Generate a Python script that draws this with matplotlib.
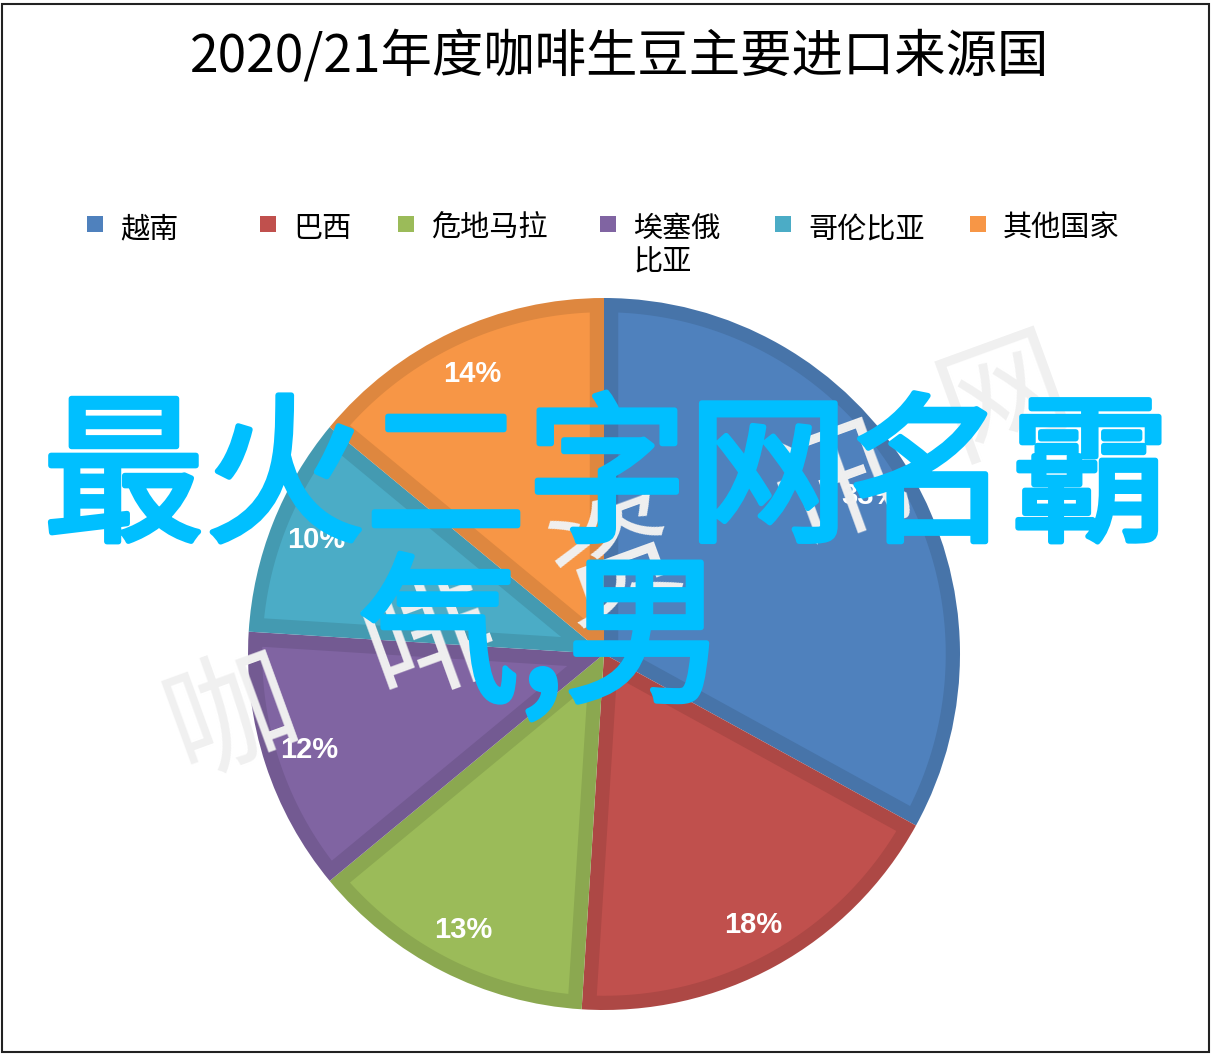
import matplotlib
matplotlib.use("Agg")
import matplotlib.pyplot as plt
from matplotlib.patches import Rectangle
import matplotlib.patheffects as pe
import numpy as np

plt.rcParams['font.family'] = ['Noto Sans CJK SC', 'DejaVu Sans']

# data
countries = ['越南', '巴西', '危地马拉', '埃塞俄\n比亚', '哥伦比亚', '其他国家']
shares = [33, 18, 13, 12, 10, 14]
colors = ['#4F81BD', '#C0504D', '#9BBB59', '#8064A2', '#4BACC6', '#F79646']
edge_colors = ['#4774A9', '#AD4845', '#8BA850', '#735A92', '#449AB1', '#DE873F']
title = '2020/21年度咖啡生豆主要进口来源国'
overlay_line1 = '最火二字网名霸'
overlay_line2 = '气,男'
watermark = '咖啡资讯网'

W, H = 1211, 1054
fig = plt.figure(figsize=(W / 100, H / 100), dpi=100)

# frame around the chart
fig.patches.append(Rectangle((0.002, 0.002), 0.996, 0.994, transform=fig.transFigure,
                             fill=False, edgecolor='#222222', linewidth=1.5))

fig.text(620 / W, 1 - 57 / H, title, ha='center', va='center', fontsize=37)

# pie axes, centre (604, 654) px, radius 356 px
ax = fig.add_axes([248 / W, 44 / H, 712 / W, 712 / H])
wedges, texts = ax.pie(shares, colors=edge_colors, startangle=90, counterclock=False,
                       labels=[f'{s}%' for s in shares], labeldistance=0.87,
                       wedgeprops=dict(linewidth=0))

# lighter inset of every wedge, leaving a darker band at its edges
band = 0.04
for w, c in zip(wedges, colors):
    t1, t2 = np.radians(w.theta1), np.radians(w.theta2)
    half = (t2 - t1) / 2
    bis = (t1 + t2) / 2
    p = band / np.sin(half) * np.array([np.cos(bis), np.sin(bis)])
    rin = w.r - band
    ends = []
    for t in (t1, t2):
        u = np.array([np.cos(t), np.sin(t)])
        pu = p @ u
        s = -pu + np.sqrt(pu ** 2 - p @ p + rin ** 2)
        q = p + s * u
        ends.append(np.arctan2(q[1], q[0]))
    a1, a2 = ends
    if a2 < a1:
        a2 += 2 * np.pi
    arc = np.linspace(a1, a2, 120)
    xs = np.concatenate([[p[0]], rin * np.cos(arc)])
    ys = np.concatenate([[p[1]], rin * np.sin(arc)])
    ax.fill(xs, ys, color=c, linewidth=0, zorder=2)

for t in texts:
    t.set_color('white')
    t.set_fontsize(21)
    t.set_fontweight('bold')
    t.set_family(['Liberation Sans', 'DejaVu Sans'])
    t.set_ha('center')
    t.set_va('center')
    t.set_zorder(3)
ax.set_xlim(-1, 1)
ax.set_ylim(-1, 1)
ax.set_aspect('equal')
ax.axis('off')

# legend entries laid out like the original
leg_x = [95, 268, 406, 608, 783, 978]
for name, c, x in zip(countries, colors, leg_x):
    fig.patches.append(Rectangle(((x - 8) / W, 1 - 232 / H), 16 / W, 16 / H,
                                 transform=fig.transFigure, facecolor=c, edgecolor='none'))
    fig.text((x + 25) / W, 1 - 214 / H, name, ha='left', va='top', fontsize=21,
             linespacing=1.15)

# faint watermark
wm_x = [232, 432, 618, 842, 1005]
wm_y = [718, 645, 565, 490, 400]
for ch, x, y in zip(watermark, wm_x, wm_y):
    fig.text(x / W, 1 - y / H, ch, ha='center', va='center', fontsize=92,
             color='#F0F0F0', rotation=20, zorder=5)

# big overlay text
thick = [pe.withStroke(linewidth=4, foreground='#00BFFF')]
fig.text(607 / W, 1 - 483 / H, overlay_line1, ha='center', va='center', fontsize=116,
         color='#00BFFF', zorder=6, path_effects=thick)
fig.text(542 / W, 1 - 643 / H, overlay_line2, ha='center', va='center', fontsize=116,
         color='#00BFFF', zorder=6, path_effects=thick)

fig.savefig('out.png', dpi=100)
